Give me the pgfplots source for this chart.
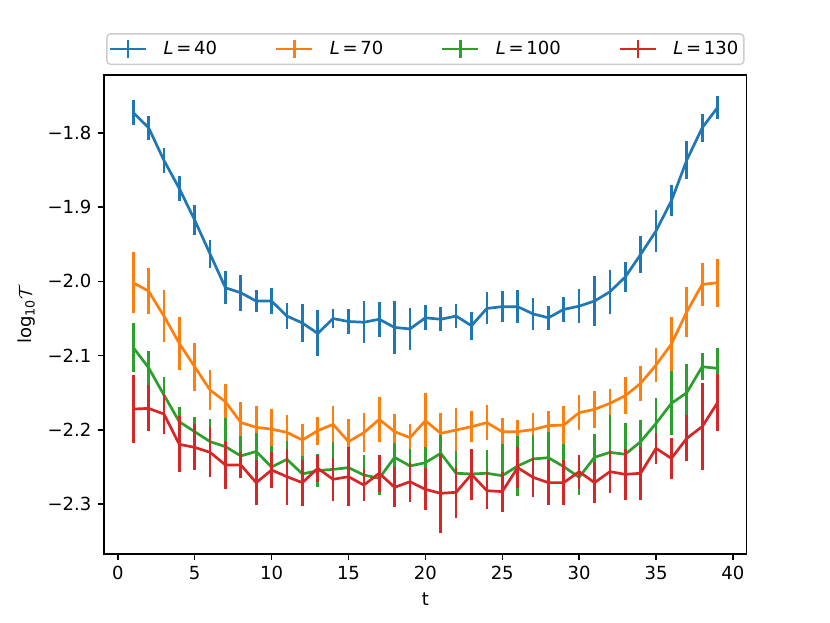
\documentclass[border=0pt]{standalone}
\usepackage{fontspec}
\setmainfont{DejaVu Sans}
\usepackage{pgfplots}
\pgfplotsset{compat=1.18}
\usepackage{pgfplotstable}
\definecolor{c0}{HTML}{1F77B4}
\definecolor{c1}{HTML}{FF7F0E}
\definecolor{c2}{HTML}{2CA02C}
\definecolor{c3}{HTML}{D62728}
\definecolor{legframe}{RGB}{204,204,204}

\pgfplotstableread{
t y e
1 -1.7725 0.017
2 -1.793 0.016
3 -1.837 0.017
4 -1.875 0.017
5 -1.9175 0.020
6 -1.963 0.019
7 -2.0086 0.0225
8 -2.0153 0.024
9 -2.0265 0.015
10 -2.0265 0.0175
11 -2.0467 0.018
12 -2.056 0.025
13 -2.070 0.031
14 -2.050 0.013
15 -2.054 0.017
16 -2.055 0.028
17 -2.051 0.0236
18 -2.062 0.036
19 -2.064 0.028
20 -2.049 0.017
21 -2.051 0.016
22 -2.0467 0.016
23 -2.0597 0.0186
24 -2.0364 0.0215
25 -2.034 0.021
26 -2.034 0.022
27 -2.0437 0.022
28 -2.049 0.016
29 -2.0377 0.0166
30 -2.0333 0.0224
31 -2.0265 0.034
32 -2.014 0.030
33 -1.994 0.0197
34 -1.9637 0.0247
35 -1.932 0.0285
36 -1.8915 0.021
37 -1.8367 0.026
38 -1.7933 0.019
39 -1.7658 0.015
}\tblA

\pgfplotstableread{
t y e
1 -2.0018 0.041
2 -2.013 0.031
3 -2.0467 0.035
4 -2.0835 0.036
5 -2.115 0.0325
6 -2.1463 0.027
7 -2.162 0.0236
8 -2.190 0.027
9 -2.1965 0.0285
10 -2.199 0.027
11 -2.2033 0.0236
12 -2.2136 0.0213
13 -2.201 0.019
14 -2.1925 0.025
15 -2.2158 0.031
16 -2.2037 0.026
17 -2.1858 0.030
18 -2.2024 0.024
19 -2.2104 0.019
20 -2.1876 0.0375
21 -2.2046 0.027
22 -2.2001 0.029
23 -2.1956 0.021
24 -2.1902 0.0236
25 -2.2024 0.019
26 -2.2024 0.016
27 -2.1995 0.0225
28 -2.1943 0.020
29 -2.1934 0.0256
30 -2.1768 0.0233
31 -2.1723 0.025
32 -2.1642 0.0195
33 -2.1539 0.0247
34 -2.1373 0.024
35 -2.1126 0.023
36 -2.0844 0.036
37 -2.0409 0.034
38 -2.0041 0.0287
39 -2.0018 0.032
}\tblB

\pgfplotstableread{
t y e
1 -2.0889 0.033
2 -2.1162 0.023
3 -2.153 0.024
4 -2.189 0.020
5 -2.2024 0.020
6 -2.2158 0.030
7 -2.2225 0.038
8 -2.235 0.027
9 -2.229 0.025
10 -2.250 0.028
11 -2.2396 0.025
12 -2.2593 0.024
13 -2.2548 0.022
14 -2.2531 0.037
15 -2.2508 0.021
16 -2.2607 0.027
17 -2.2652 0.022
18 -2.2369 0.019
19 -2.2486 0.023
20 -2.2441 0.021
21 -2.2315 0.025
22 -2.2584 0.030
23 -2.2593 0.025
24 -2.2584 0.032
25 -2.2616 0.043
26 -2.2486 0.040
27 -2.2391 0.032
28 -2.2374 0.035
29 -2.2495 0.031
30 -2.2638 0.024
31 -2.2369 0.031
32 -2.2302 0.050
33 -2.2328 0.042
34 -2.2158 0.029
35 -2.1912 0.034
36 -2.1642 0.043
37 -2.1499 0.039
38 -2.1149 0.018
39 -2.1171 0.028
}\tblC

\pgfplotstableread{
t y e
1 -2.1719 0.046
2 -2.171 0.031
3 -2.1786 0.027
4 -2.2194 0.0375
5 -2.2235 0.031
6 -2.2302 0.0336
7 -2.2472 0.032
8 -2.2472 0.018
9 -2.271 0.0305
10 -2.254 0.0236
11 -2.263 0.0375
12 -2.271 0.031
13 -2.2517 0.018
14 -2.2665 0.0287
15 -2.263 0.040
16 -2.2742 0.021
17 -2.2584 0.025
18 -2.2773 0.027
19 -2.2697 0.027
20 -2.280 0.0285
21 -2.2854 0.053
22 -2.284 0.034
23 -2.2598 0.034
24 -2.2818 0.025
25 -2.2831 0.027
26 -2.2508 0.028
27 -2.2638 0.027
28 -2.271 0.030
29 -2.271 0.030
30 -2.2562 0.023
31 -2.271 0.028
32 -2.2562 0.029
33 -2.2598 0.034
34 -2.2584 0.036
35 -2.2248 0.021
36 -2.2383 0.028
37 -2.2113 0.031
38 -2.1956 0.059
39 -2.1633 0.038
}\tblD

\pgfplotsset{
  leg/.style={legend image code/.code={
    \draw[#1,line width=1.5pt] (0pt,0pt) -- (20pt,0pt);
    \draw[#1,line width=1.5pt] (10pt,-5pt) -- (10pt,5pt);}},
  ser/.style={#1, line width=1.5pt, mark=none, leg=#1,
    error bars/.cd, y dir=both, y explicit, error mark=none,
    error bar style={line width=1.5pt, #1}},
}

\begin{document}
\begin{tikzpicture}
\useasboundingbox (-57.7pt,-38.3pt) rectangle (402.9pt,307.4pt);
\begin{axis}[
  at={(0,0)}, anchor=south west,
  scale only axis, width=356.7pt, height=265.8pt,
  xmin=-0.9, xmax=40.9, ymin=-2.367, ymax=-1.722,
  xtick={0,5,...,40},
  ytick={-2.3,-2.2,-2.1,-2.0,-1.9,-1.8},
  yticklabels={−2.3,−2.2,−2.1,−2.0,−1.9,−1.8},
  tick pos=left, tick align=outside,
  major tick length=3.5pt,
  every tick/.style={black, line width=0.8pt},
  axis line style={line width=0.8pt},
  /pgf/number format/assume math mode=true,
  xlabel={t}, ylabel={log\textsubscript{10}$\mathcal{T}$},
  legend columns=4,
  legend cell align=left,
  legend style={at={(0.5,1)}, anchor=south, yshift=5.5pt,
    draw=legframe, rounded corners=2pt, line width=0.8pt, fill=white,
    inner xsep=1pt, inner ysep=2pt,
    nodes={inner sep=2pt},
    /tikz/every odd column/.append style={column sep=7pt},
    /tikz/every even column/.append style={column sep=30pt}},
]
\addplot[ser=c0] table[x=t,y=y,y error=e] {\tblA};
\addlegendentry{\textit{L}\hspace{1.5pt}=\hspace{1.5pt}40}
\addplot[ser=c1] table[x=t,y=y,y error=e] {\tblB};
\addlegendentry{\textit{L}\hspace{1.5pt}=\hspace{1.5pt}70}
\addplot[ser=c2] table[x=t,y=y,y error=e] {\tblC};
\addlegendentry{\textit{L}\hspace{1.5pt}=\hspace{1.5pt}100}
\addplot[ser=c3] table[x=t,y=y,y error=e] {\tblD};
\addlegendentry{\textit{L}\hspace{1.5pt}=\hspace{1.5pt}130}
\end{axis}
\end{tikzpicture}
\end{document}
